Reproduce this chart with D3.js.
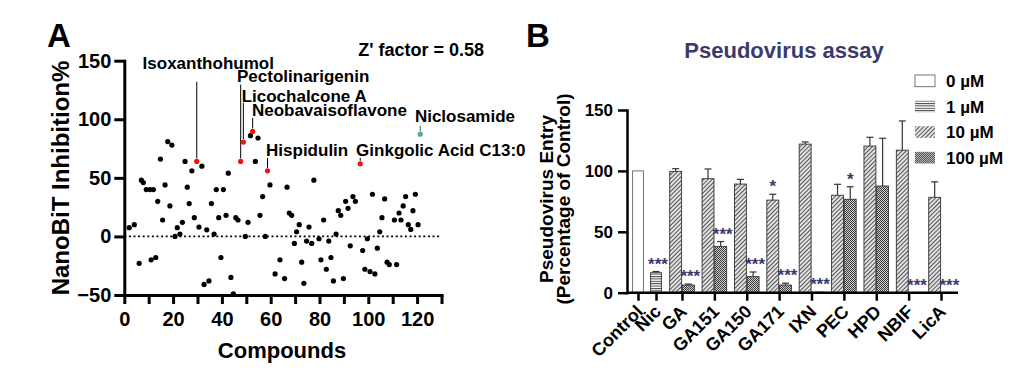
<!DOCTYPE html>
<html>
<head>
<meta charset="utf-8">
<script src="https://cdn.jsdelivr.net/npm/d3@7"></script>
<style>
  body { margin: 0; background: #fff; }
  svg { display: block; }
  text { font-family: "Liberation Sans", Arial, Helvetica, sans-serif; font-weight: bold; }
</style>
</head>
<body>
<svg id="chart" width="1012" height="371"></svg>
<script>
// ---------- data: panel A (NanoBiT screen) ----------
const compoundNo = [2.0, 4.1, 6.1, 7, 7.8, 9, 10.5, 11, 11.9, 12.9, 13.7, 14.8, 15.7, 16.7, 17.8, 18.7, 19.5, 20.8, 21.7, 22.8,
  23.8, 24.9, 25.8, 26.6, 27.7, 28.7, 30.6, 31.8, 32.7, 33.8, 34.7, 35.7, 36.8, 37.7, 38.7, 39.6, 40.6, 41.7, 42.6, 43.7,
  44.7, 45.7, 46.6, 49.6, 50.7, 51.7, 53.7, 54.8, 55.6, 56.7, 57.8, 59.7, 61.8, 63.8, 65.7, 66.7, 67.6, 68.6, 69.7, 70.6,
  71.7, 72.7, 73.6, 74.7, 75.7, 76.8, 77.7, 79.8, 80.6, 81.7, 82.8, 83.8, 84.7, 85.7, 86.8, 87.7, 88.7, 89.8, 90.7, 91.7,
  92.6, 93.7, 94.7, 97.7, 98.6, 99.6, 100.7, 101.7, 102.7, 103.7, 104.7, 105.6, 106.7, 107.7, 108.6, 110.7, 111.6, 112.6, 113.4, 114.3,
  115.3, 116.4, 117.4, 118.3, 119.3, 120.4];
const inhibition = [7.5, 10, -23, 48, 46, 40, 40, -20, 40, -18, 30, 66, 14, 44, 81, 26, 78, 0, 7.5, 2,
  12, 64, 42, 28, 56, 16, 8, 60, -41, 5.6, -38, 28, 2, 40, 16, -18, 40, 18, 54, -35,
  -49, 16, 14, 0, 12, 86, 64, 84, 18, 34, 0, 44, -32, -20, -36, 42, 20, 18, -6, 4,
  10, -22, -40, -4, 8, -6, 48, -2, -20, 14, -28, -4, -18, -38, 2, 22, 18, -36, 30, 24,
  -8, 34, 30, -12, -28, -2, -30, 36, -32, -10, 4, 16, 32, -22, -24, 14, -24, 20, 14, 26,
  34, 10, 6, 22, 36, 10];

const hitNames = ["Isoxanthohumol", "Pectolinarigenin", "Licochalcone A", "Neobavaisoflavone", "Hispidulin", "Ginkgolic Acid C13:0", "Niclosamide"];
const hitCompound = [29.7, 47.7, 48.8, 52.6, 58.7, 96.7, 121.3];
const hitInhibition = [64, 64, 80.5, 89.6, 56, 62, 87.3];
const zFactor = 0.58;

// ---------- data: panel B (pseudovirus assay) ----------
const conditions = ["Control", "Nic", "GA", "GA151", "GA150", "GA171", "IXN", "PEC", "HPD", "NBIF", "LicA"];
const doses = ["0 µM", "1 µM", "10 µM", "100 µM"];
const singleGroups = ["Control", "Nic"];
const singleDose = ["0 µM", "1 µM"];
const singleEntry = [100, 16.4];
const singleErr = [0, 1];
const singleSig = ["", "***"];
const pairGroups = ["GA", "GA151", "GA150", "GA171", "IXN", "PEC", "HPD", "NBIF", "LicA"];
const entry10 = [99.6, 93.6, 89.2, 76, 122, 80, 120.4, 117, 78.3];
const err10 = [2.2, 8, 3.8, 4.8, 1.8, 9, 7.2, 24, 12.7];
const sig10 = ["", "", "", "*", "", "", "", "", ""];
const entry100 = [6.3, 38, 13.2, 6.3, 0.5, 76.7, 87.6, 0, 0];
const err100 = [0.8, 4, 3.8, 1.5, 0, 10.3, 39.2, 0, 0];
const sig100 = ["***", "***", "***", "***", "***", "*", "", "***", "***"];

const svg = d3.select("#chart");
const navy = "#3b3a6d";

// ================= Panel A =================
const xA = d3.scaleLinear().domain([0, 130]).range([124.3, 441.5]);
const yA = d3.scaleLinear().domain([-50, 150]).range([295, 60.7]);
const gA = svg.append("g");

function styleAxis(a, size, width) {
  a.attr("font-family", null).attr("font-size", null);
  a.selectAll("path, line").attr("stroke", "#000").attr("stroke-width", width);
  a.select(".domain").attr("stroke-linecap", "square");
  a.selectAll("text").attr("font-size", size).attr("fill", "#000");
}

const axA = gA.append("g").attr("transform", `translate(0,${yA(-50)})`)
  .call(d3.axisBottom(xA).tickValues(d3.range(0, 131, 10))
    .tickFormat(d => d % 20 === 0 ? d : "").tickSize(9).tickSizeOuter(0).tickPadding(8));
styleAxis(axA, 20, 3);
const ayA = gA.append("g").attr("transform", `translate(${xA(0)},0)`)
  .call(d3.axisLeft(yA).tickValues([-50, 0, 50, 100, 150]).tickSize(10).tickSizeOuter(0).tickPadding(3));
styleAxis(ayA, 20, 3);

gA.append("line")
  .attr("x1", xA(0)).attr("x2", xA(130)).attr("y1", yA(0)).attr("y2", yA(0))
  .attr("stroke", "#000").attr("stroke-width", 1.8).attr("stroke-dasharray", "2,2.6");

gA.append("g").selectAll("circle")
  .data(compoundNo.map((c, i) => [c, inhibition[i]]))
  .join("circle")
  .attr("cx", d => xA(d[0])).attr("cy", d => yA(d[1])).attr("r", 2.6).attr("fill", "#000");

// label anchor (data units) and top of leader line for each hit
const hitLabelPos = [
  { lx: 7.5, ly: 142.6, top: 132 },
  { lx: 46.2, ly: 131.6, top: 129.6 },
  { lx: 48.1, ly: 115, top: 114 },
  { lx: 52.3, ly: 102.6, top: 101 },
  { lx: 58.1, ly: 68.8, top: 67 },
  { lx: 95, ly: 68.8, top: 67 },
  { lx: 119.1, ly: 97.3, top: 94.4 }
];
const hitColor = hitNames.map(n => n === "Niclosamide" ? "#5cab84" : "#e8170b");

hitNames.forEach((name, i) => {
  const p = hitLabelPos[i];
  gA.append("line")
    .attr("x1", xA(hitCompound[i])).attr("x2", xA(hitCompound[i]))
    .attr("y1", yA(p.top)).attr("y2", yA(hitInhibition[i]) - 3)
    .attr("stroke", name === "Niclosamide" ? "#2f6f50" : "#000").attr("stroke-width", 1);
  gA.append("circle")
    .attr("cx", xA(hitCompound[i])).attr("cy", yA(hitInhibition[i])).attr("r", 2.6)
    .attr("fill", hitColor[i]);
  gA.append("text")
    .attr("x", xA(p.lx)).attr("y", yA(p.ly))
    .attr("font-size", 17).attr("fill", "#000").text(name);
});

gA.append("text").attr("x", xA(95.9)).attr("y", yA(154))
  .attr("font-size", 18).attr("fill", "#000").text(`Z' factor = ${zFactor}`);

gA.append("text").attr("x", 282).attr("y", 358).attr("text-anchor", "middle")
  .attr("font-size", 22).text("Compounds");
gA.append("text").attr("transform", "translate(69,178) rotate(-90)").attr("text-anchor", "middle")
  .attr("font-size", 24).text("NanoBiT Inhibition%");
gA.append("text").attr("x", 47).attr("y", 47).attr("font-size", 33).text("A");

// ================= Panel B =================
const yB = d3.scaleLinear().domain([0, 150]).range([292.7, 110]);
const xSingle = d3.scaleBand().domain(singleGroups).range([629, 665]).paddingInner(0.4).paddingOuter(0.2);
const xPair = d3.scaleBand().domain(pairGroups).range([665.8, 957.2]).paddingInner(0.24).paddingOuter(0.12);
const xDose = d3.scaleBand().domain(["10 µM", "100 µM"]).range([0, xPair.bandwidth()]).paddingInner(0.06);
const centerOf = c => singleGroups.includes(c)
  ? xSingle(c) + xSingle.bandwidth() / 2
  : xPair(c) + xPair.bandwidth() / 2;
const xTicks = d3.scaleOrdinal().domain(conditions).range(conditions.map(centerOf));

const gB = svg.append("g");

// patterns
const defs = svg.append("defs");
const pHoriz = defs.append("pattern").attr("id", "pat1").attr("patternUnits", "userSpaceOnUse")
  .attr("width", 4).attr("height", 2.4);
pHoriz.append("rect").attr("width", 4).attr("height", 2.4).attr("fill", "#fff");
pHoriz.append("rect").attr("y", 0).attr("width", 4).attr("height", 1).attr("fill", "#444");

const pDiag = defs.append("pattern").attr("id", "pat10").attr("patternUnits", "userSpaceOnUse")
  .attr("width", 3).attr("height", 3).attr("patternTransform", "rotate(45)");
pDiag.append("rect").attr("width", 3).attr("height", 3).attr("fill", "#e2e2e2");
pDiag.append("rect").attr("width", 1).attr("height", 3).attr("fill", "#555");

const pCheck = defs.append("pattern").attr("id", "pat100").attr("patternUnits", "userSpaceOnUse")
  .attr("width", 2).attr("height", 2);
pCheck.append("rect").attr("width", 2).attr("height", 2).attr("fill", "#d0d0d0");
pCheck.append("rect").attr("width", 1).attr("height", 1).attr("fill", "#3a3a3a");
pCheck.append("rect").attr("x", 1).attr("y", 1).attr("width", 1).attr("height", 1).attr("fill", "#3a3a3a");

const doseFill = d3.scaleOrdinal().domain(doses).range(["#fff", "url(#pat1)", "url(#pat10)", "url(#pat100)"]);
const doseStroke = d3.scaleOrdinal().domain(doses).range(["#666", "#333", "#333", "#333"]);

const bars = [];
singleGroups.forEach((g, i) => bars.push({
  x: xSingle(g), w: xSingle.bandwidth(), v: singleEntry[i], e: singleErr[i], sig: singleSig[i], dose: singleDose[i]
}));
pairGroups.forEach((g, i) => {
  bars.push({ x: xPair(g) + xDose("10 µM"), w: xDose.bandwidth(), v: entry10[i], e: err10[i], sig: sig10[i], dose: "10 µM" });
  bars.push({ x: xPair(g) + xDose("100 µM"), w: xDose.bandwidth(), v: entry100[i], e: err100[i], sig: sig100[i], dose: "100 µM" });
});

// error bars (upper only)
const errG = gB.append("g");
bars.filter(d => d.e > 0).forEach(d => {
  const cx = d.x + d.w / 2;
  errG.append("line").attr("x1", cx).attr("x2", cx).attr("y1", yB(d.v)).attr("y2", yB(d.v + d.e))
    .attr("stroke", "#333").attr("stroke-width", 1.2);
  errG.append("line").attr("x1", cx - 3.5).attr("x2", cx + 3.5).attr("y1", yB(d.v + d.e)).attr("y2", yB(d.v + d.e))
    .attr("stroke", "#333").attr("stroke-width", 1.2);
});

gB.append("g").selectAll("rect")
  .data(bars.filter(d => d.v > 0))
  .join("rect")
  .attr("x", d => d.x).attr("width", d => d.w)
  .attr("y", d => yB(d.v)).attr("height", d => yB(0) - yB(d.v))
  .attr("fill", d => doseFill(d.dose)).attr("stroke", d => doseStroke(d.dose)).attr("stroke-width", 0.9);

// significance marks
gB.append("g").selectAll("text")
  .data(bars.filter(d => d.sig))
  .join("text")
  .attr("x", d => d.x + d.w / 2 + (d.sig.length > 1 ? 2 : 0))
  .attr("y", d => yB(d.v + d.e) - 2)
  .attr("text-anchor", "middle").attr("font-size", 17).attr("fill", navy)
  .text(d => d.sig);

// axes
const ayB = gB.append("g").attr("transform", "translate(627,0)")
  .call(d3.axisLeft(yB).tickValues([0, 50, 100, 150]).tickSize(9).tickSizeOuter(0).tickPadding(5));
styleAxis(ayB, 17, 2.5);

const axB = gB.append("g").attr("transform", `translate(0,${yB(0)})`)
  .call(d3.axisBottom(xTicks).tickSize(8).tickSizeOuter(0).tickFormat(""));
axB.select(".domain").remove();
styleAxis(axB, 16, 2.5);
gB.append("line").attr("x1", 627).attr("x2", 958).attr("y1", yB(0)).attr("y2", yB(0))
  .attr("stroke", "#000").attr("stroke-width", 2.5);

gB.append("g").selectAll("text")
  .data(conditions)
  .join("text")
  .attr("transform", d => `translate(${xTicks(d) + 6},${yB(0) + 20}) rotate(-45)`)
  .attr("text-anchor", "end").attr("font-size", 18).attr("fill", "#000")
  .text(d => d);

// axis titles
const yTitle = gB.append("text").attr("transform", "translate(553,199) rotate(-90)")
  .attr("text-anchor", "middle").attr("font-size", 19).attr("fill", "#000");
yTitle.append("tspan").attr("x", 0).attr("y", 0).text("Pseudovirus Entry");
yTitle.append("tspan").attr("x", 0).attr("y", 17).text("(Percentage of Control)");

gB.append("text").attr("x", 784).attr("y", 58).attr("text-anchor", "middle")
  .attr("font-size", 22).attr("fill", navy).text("Pseudovirus assay");
gB.append("text").attr("x", 526).attr("y", 47).attr("font-size", 33).text("B");

// legend
const leg = gB.append("g").attr("transform", "translate(915,75)");
const legItem = leg.selectAll("g").data(doses).join("g")
  .attr("transform", (d, i) => `translate(0,${i * 25.6})`);
legItem.append("rect").attr("width", 20).attr("height", 11.7)
  .attr("fill", d => doseFill(d)).attr("stroke", d => d === "0 µM" ? "#666" : "none").attr("stroke-width", 0.9);
legItem.append("text").attr("x", 31).attr("y", 12).attr("font-size", 17).attr("fill", "#000").text(d => d);
</script>
</body>
</html>
